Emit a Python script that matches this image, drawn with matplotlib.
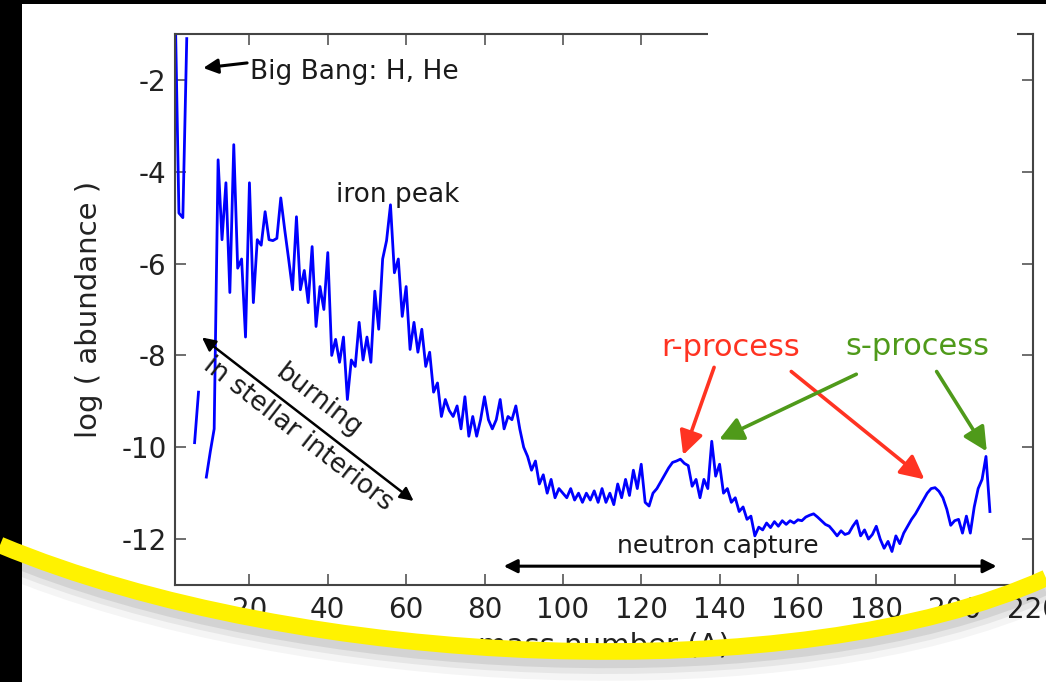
import numpy as np
import matplotlib
matplotlib.use('Agg')
import matplotlib.pyplot as plt
from matplotlib.patches import Rectangle, PathPatch
from matplotlib.path import Path

plt.rcParams['axes.unicode_minus'] = False

nan = np.nan

# solar system abundances, one value per mass number (gaps at A=5 and A=8)
mass_number = list(range(1, 210))
log_abundance = [
    -0.2, -4.9, -5.0, -1.1, nan, -9.9, -8.8, nan, -10.65, -10.1,
    -9.6, -3.74, -5.48, -4.24, -6.63, -3.41, -6.1, -5.9, -7.6, -4.24,
    -6.85, -5.48, -5.6, -4.87, -5.48, -5.5, -5.45, -4.57, -5.26, -5.9,
    -6.57, -4.98, -6.57, -6.15, -6.85, -5.63, -7.37, -6.5, -7.0, -5.76,
    -8.0, -7.65, -8.15, -7.6, -8.96, -8.1, -8.24, -7.28, -8.1, -7.6,
    -8.15, -6.6, -7.43, -5.9, -5.5, -4.72, -6.2, -5.9, -7.15, -6.5,
    -7.87, -7.28, -7.93, -7.43, -8.24, -7.93, -8.8, -8.6, -9.33, -8.96,
    -9.2, -9.33, -9.1, -9.6, -8.9, -9.76, -9.33, -9.76, -9.4, -8.9,
    -9.4, -9.6, -9.4, -8.96, -9.6, -9.33, -9.4, -9.1, -9.6, -10.0,
    -10.2, -10.5, -10.3, -10.8, -10.6, -11.0, -10.7, -11.1, -10.9, -11.0,
    -11.1, -10.9, -11.15, -11.0, -11.2, -11.0, -11.15, -10.95, -11.2, -10.9,
    -11.2, -11.0, -11.25, -10.8, -11.1, -10.7, -11.05, -10.5, -10.9, -10.37,
    -11.2, -11.28, -11.0, -10.9, -10.75, -10.6, -10.45, -10.33, -10.3, -10.26,
    -10.35, -10.4, -10.85, -10.7, -11.1, -10.7, -10.9, -9.87, -10.63, -10.37,
    -11.0, -10.9, -11.2, -11.1, -11.4, -11.3, -11.57, -11.5, -11.93, -11.74,
    -11.8, -11.65, -11.75, -11.62, -11.72, -11.6, -11.68, -11.6, -11.65, -11.58,
    -11.6, -11.52, -11.48, -11.45, -11.52, -11.6, -11.68, -11.72, -11.82, -11.93,
    -11.82, -11.9, -11.87, -11.72, -11.6, -11.93, -11.8, -12.0, -11.9, -11.72,
    -12.0, -12.2, -12.05, -12.27, -11.93, -12.1, -11.87, -11.72, -11.57, -11.45,
    -11.3, -11.15, -11.0, -10.9, -10.88, -10.96, -11.1, -11.35, -11.7, -11.6,
    -11.57, -11.87, -11.5, -11.87, -11.3, -10.9, -10.7, -10.2, -11.4,
]
assert len(log_abundance) == len(mass_number)

x_ticks = [20, 40, 60, 80, 100, 120, 140, 160, 180, 200, 220]
y_ticks = [-12, -10, -8, -6, -4, -2]

W, H = 1046, 682
fig = plt.figure(figsize=(W / 100, H / 100), dpi=100)
fig.patch.set_facecolor('black')

def fx(px):
    return px / W

def fy(py):
    return 1 - py / H

# white page on the black background
fig.add_artist(Rectangle((fx(22), 0), 1, fy(4), transform=fig.transFigure,
                         facecolor='white', edgecolor='none', zorder=-10))

ax = fig.add_axes([fx(175), fy(585), fx(1033) - fx(175), fy(34) - fy(585)])
ax.plot(mass_number, log_abundance, color='blue', lw=2.0)
ax.set_xlim(1, 220)
ax.set_ylim(-13, -1)
ax.set_xticks(x_ticks)
ax.set_yticks(y_ticks)
ax.tick_params(direction='in', length=8, width=1.2, color='#555555',
               labelsize=20, labelcolor='#222222', top=True, right=True)
ax.tick_params(axis='x', pad=8)
ax.tick_params(axis='y', pad=6)
for s in ax.spines.values():
    s.set_color('#444444')
    s.set_linewidth(1.5)

ax.set_xlabel('mass number (A)', fontsize=21, color='#222222')
ax.set_ylabel('log ( abundance )', fontsize=21, color='#222222')
ax.xaxis.set_label_coords(0.5, -0.085)
ax.yaxis.set_label_coords(-0.084, 0.5)

txt = '#1a1a1a'

# Big Bang
ax.annotate('', xy=(8.2, -1.74), xytext=(19.4, -1.63),
            arrowprops=dict(arrowstyle='-|>', color='black', lw=2.2,
                            mutation_scale=22, shrinkA=0, shrinkB=0))
ax.text(20.2, -1.83, 'Big Bang: H, He', fontsize=19, color=txt,
        ha='left', va='center')

ax.text(57.8, -4.5, 'iron peak', fontsize=19, color=txt, ha='center', va='center')

# stellar burning
ax.annotate('', xy=(61.9, -11.17), xytext=(7.9, -7.61),
            arrowprops=dict(arrowstyle='<|-|>', color='black', lw=1.8,
                            mutation_scale=20, shrinkA=0, shrinkB=0))
ax.text(37.6, -9.0, 'burning', fontsize=19, color=txt, rotation=-38,
        ha='center', va='center', rotation_mode='anchor')
ax.text(32.5, -9.72, 'in stellar interiors', fontsize=19, color=txt, rotation=-38,
        ha='center', va='center', rotation_mode='anchor')

# r- and s-process peaks
red = '#ff3322'
green = '#4f9a1a'
ax.text(142.7, -7.83, 'r-process', fontsize=22, color=red, ha='center', va='center')
ax.text(190.5, -7.8, 's-process', fontsize=22, color=green, ha='center', va='center')
for tail, tip, c in [((138.6, -8.26), (130.7, -10.17), red),
                     ((158.3, -8.35), (192.3, -10.7), red),
                     ((174.9, -8.41), (139.9, -9.83), green),
                     ((195.4, -8.35), (208.2, -10.09), green)]:
    ax.annotate('', xy=tip, xytext=tail,
                arrowprops=dict(arrowstyle='-|>,head_length=0.8,head_width=0.4',
                                color=c, lw=2.6, mutation_scale=18,
                                shrinkA=0, shrinkB=0))

# neutron capture
ax.annotate('', xy=(210.7, -12.59), xytext=(84.9, -12.59),
            arrowprops=dict(arrowstyle='<|-|>', color='black', lw=2.2,
                            mutation_scale=20, shrinkA=0, shrinkB=0))
ax.text(139.6, -12.15, 'neutron capture', fontsize=18, color=txt,
        ha='center', va='center')

# blank strip over the top spine
fig.add_artist(Rectangle((fx(708), fy(48)), fx(1017) - fx(708), fy(26) - fy(48),
                         transform=fig.transFigure, facecolor='white',
                         edgecolor='none', zorder=5))

# yellow highlighter stroke with a soft shadow
def stroke(dy):
    pts = [(0, 545 + dy), (300, 670 + dy), (800, 690 + dy), (1046, 578 + dy)]
    verts = [(fx(x), fy(y)) for x, y in pts]
    return Path(verts, [Path.MOVETO, Path.CURVE4, Path.CURVE4, Path.CURVE4])

for dy, a, lw in [(14, 0.04, 22), (10, 0.06, 18), (7, 0.08, 14)]:
    fig.add_artist(PathPatch(stroke(dy), transform=fig.transFigure, fill=False,
                             edgecolor='black', alpha=a, lw=lw, zorder=9,
                             capstyle='butt'))
fig.add_artist(PathPatch(stroke(0), transform=fig.transFigure, fill=False,
                         edgecolor='#fff200', lw=12, zorder=10, capstyle='butt'))

fig.savefig('out.png', dpi=100, facecolor=fig.get_facecolor())
